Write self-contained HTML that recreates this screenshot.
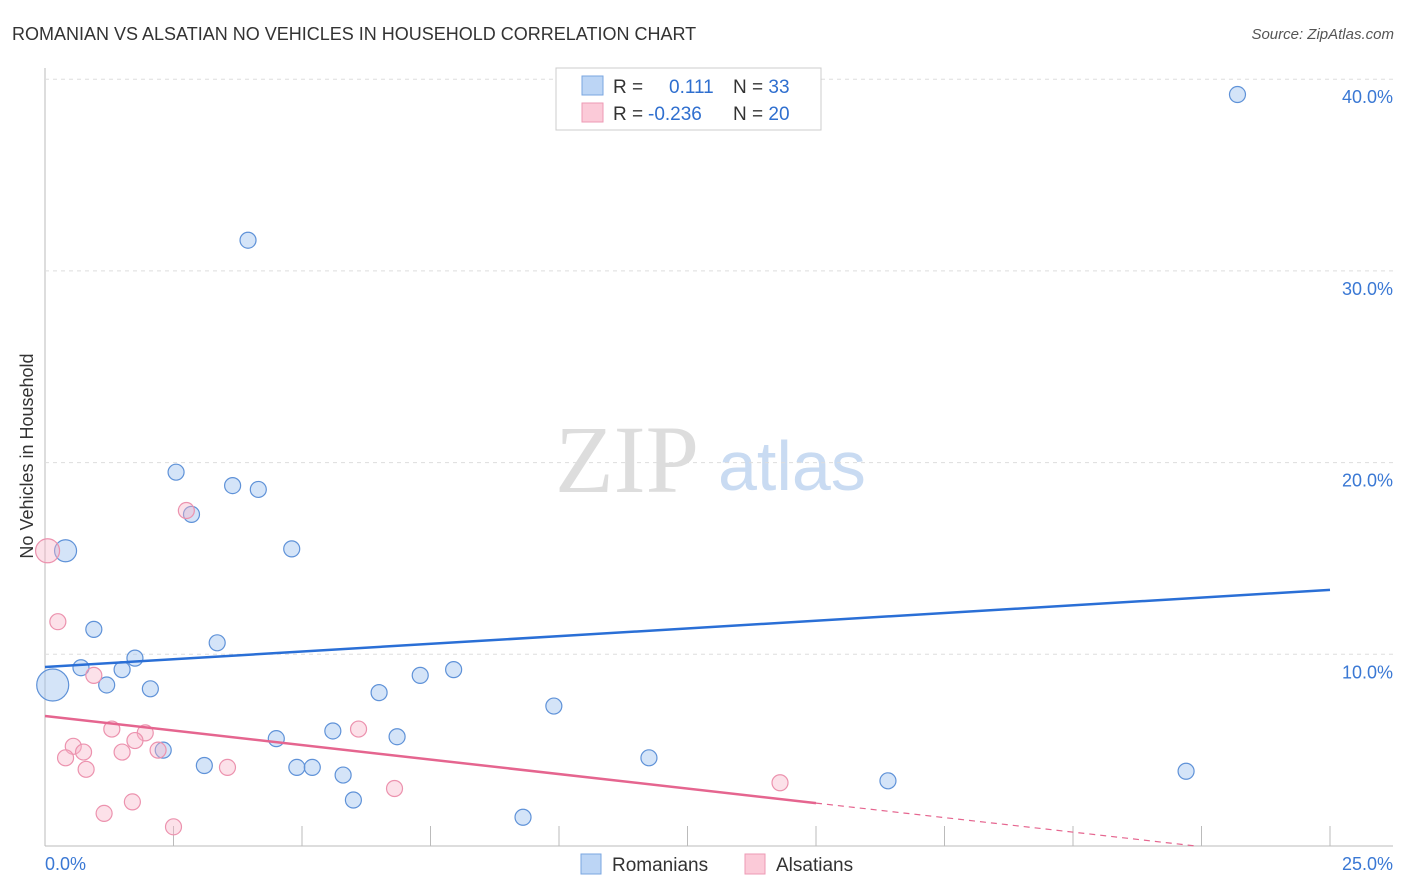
<!DOCTYPE html>
<html><head><meta charset="utf-8"><style>
body{margin:0;background:#fff;font-family:"Liberation Sans",sans-serif;}
svg{display:block}
</style></head><body>
<svg id="c" width="1406" height="892" xmlns="http://www.w3.org/2000/svg">
<text x="12" y="40" font-size="18" fill="#333">ROMANIAN VS ALSATIAN NO VEHICLES IN HOUSEHOLD CORRELATION CHART</text>
<text x="1394" y="39" font-size="15" fill="#555" font-style="italic" text-anchor="end">Source: ZipAtlas.com</text>
<text x="33" y="456" font-size="18" fill="#333" text-anchor="middle" transform="rotate(-90 33 456)">No Vehicles in Household</text>
<text x="555" y="492" font-size="96" fill="#ddd" font-family="Liberation Serif,serif">ZIP</text>
<text x="718" y="490" font-size="70" fill="#c9dbf2">atlas</text>
<g id="grid"></g><g id="pts"></g><g id="lines"></g>
<g>
<rect x="556" y="68" width="265" height="62" fill="#fff" stroke="#ccc"/>
<rect x="582" y="76" width="21" height="19" fill="#bcd5f5" stroke="#7aa6e0"/>
<rect x="582" y="103" width="21" height="19" fill="#fbcad8" stroke="#ee9ab4"/>
<text x="613" y="93" font-size="19" fill="#333">R = <tspan fill="#2f6fcf" x="669">0.111</tspan><tspan fill="#333" x="733">N = </tspan><tspan fill="#2f6fcf">33</tspan></text>
<text x="613" y="120" font-size="19" fill="#333">R = <tspan fill="#2f6fcf" x="648">-0.236</tspan><tspan fill="#333" x="733">N = </tspan><tspan fill="#2f6fcf">20</tspan></text>
</g>
<g>
<rect x="581" y="854" width="20" height="20" fill="#bcd5f5" stroke="#7aa6e0"/>
<text x="612" y="871" font-size="19" fill="#333">Romanians</text>
<rect x="745" y="854" width="20" height="20" fill="#fbcad8" stroke="#ee9ab4"/>
<text x="776" y="871" font-size="19" fill="#333">Alsatians</text>
</g>
<text x="45" y="870" font-size="18" fill="#3a78d4">0.0%</text>
<text x="1393" y="870" font-size="18" fill="#3a78d4" text-anchor="end">25.0%</text>
</svg>
<script>
const yTicks=[10,20,30,40];
const xTicks=[0,2.5,5,7.5,10,12.5,15,17.5,20,22.5,25];
const romX=[23.2,3.95,2.55,3.65,4.15,2.85,0.4,4.8,0.95,3.35,1.75,0.7,1.5,1.2,2.05,0.15,7.95,7.3,6.5,9.9,5.6,6.85,4.5,2.3,11.75,3.1,4.9,5.2,5.8,16.4,22.2,6.0,9.3];
const romY=[39.2,31.6,19.5,18.8,18.6,17.3,15.4,15.5,11.3,10.6,9.8,9.3,9.2,8.4,8.2,8.4,9.2,8.9,8.0,7.3,6.0,5.7,5.6,5.0,4.6,4.2,4.1,4.1,3.7,3.4,3.9,2.4,1.5];
const romR=[8,8,8,8,8,8,11,8,8,8,8,8,8,8,8,16,8,8,8,8,8,8,8,8,8,8,8,8,8,8,8,8,8];
const alsX=[0.05,0.25,0.95,1.3,1.95,1.75,0.55,0.75,2.2,0.4,1.5,0.8,3.55,2.75,6.1,6.8,1.7,1.15,2.5,14.3];
const alsY=[15.4,11.7,8.9,6.1,5.9,5.5,5.2,4.9,5.0,4.6,4.9,4.0,4.1,17.5,6.1,3.0,2.3,1.7,1.0,3.3];
const romLine=[9.34,13.36];
const alsLine=[6.78,-0.79];
const ns="http://www.w3.org/2000/svg";
const X=v=>45+v*51.4, Y=v=>846-v*19.17;
function mk(t,a,p){const e=document.createElementNS(ns,t);for(const k in a)e.setAttribute(k,a[k]);p.appendChild(e);return e;}
const g=document.getElementById('grid');
mk('line',{x1:45,y1:68,x2:45,y2:846,stroke:'#bbb'},g);
mk('line',{x1:45,y1:846,x2:1393,y2:846,stroke:'#bbb'},g);
yTicks.forEach(t=>{const l=mk('line',{x1:45,y1:Y(t),x2:1393,y2:Y(t),stroke:'#ddd','stroke-dasharray':'4,4'},g);


const tx=mk('text',{x:1393,y:Y(t)+24,'font-size':18,fill:'#3a78d4','text-anchor':'end'},g);tx.textContent=t.toFixed(1)+'%';

});
xTicks.forEach(t=>{const l=mk('line',{x1:X(t),y1:826,x2:X(t),y2:846,stroke:'#bbb'},g);

});
const p=document.getElementById('pts');
romX.forEach((x,i)=>{const c=mk('circle',{cx:X(x),cy:Y(romY[i]),r:romR[i],fill:'rgba(160,196,240,0.45)',stroke:'#5f92d8','stroke-width':1.2},p);

});
alsX.forEach((x,i)=>{const c=mk('circle',{cx:X(x),cy:Y(alsY[i]),r:i==0?12:8,fill:'rgba(248,180,200,0.4)',stroke:'#ec92ae','stroke-width':1.2},p);

});
const L=document.getElementById('lines');
const b=mk('line',{x1:X(0),y1:Y(romLine[0]),x2:X(25),y2:Y(romLine[1]),stroke:'#2a6fd6','stroke-width':2.5},L);


const s=(alsLine[1]-alsLine[0])/25, at=v=>alsLine[0]+s*v;
const a=mk('line',{x1:X(0),y1:Y(at(0)),x2:X(15),y2:Y(at(15)),stroke:'#e5658f','stroke-width':2.5},L);


const z=-alsLine[0]/s;
const d=mk('line',{x1:X(15),y1:Y(at(15)),x2:X(z),y2:Y(0),stroke:'#e5658f','stroke-width':1.2,'stroke-dasharray':'6,5'},L);


</script>
</body></html>
